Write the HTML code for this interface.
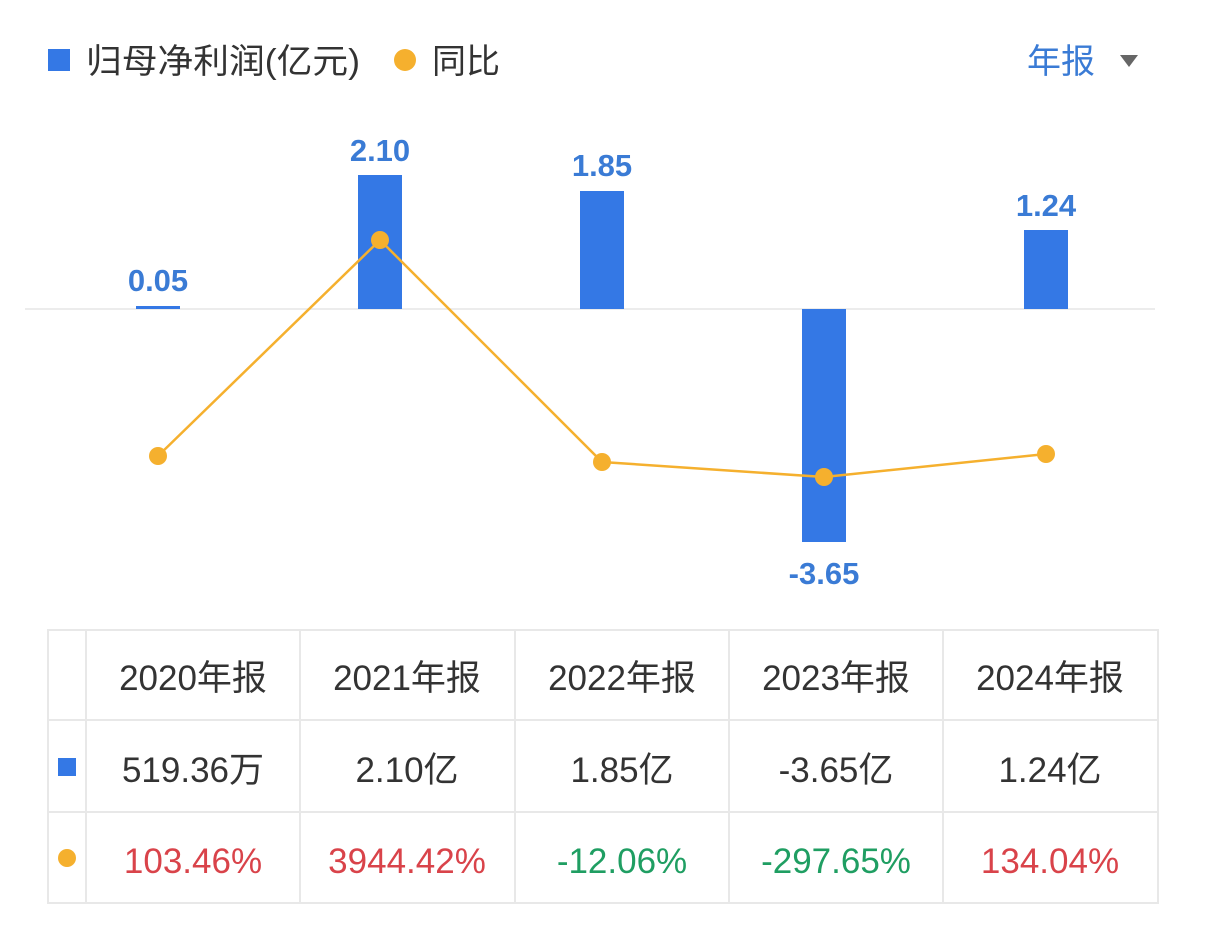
<!DOCTYPE html>
<html><head><meta charset="utf-8"><style>
body{margin:0;background:#fff;width:1206px;height:924px;overflow:hidden;font-family:"Liberation Sans","Noto Sans CJK SC",sans-serif}
svg text{font-family:"Liberation Sans","Noto Sans CJK SC",sans-serif}
</style></head><body>
<svg width="1206" height="924" xmlns="http://www.w3.org/2000/svg">
<rect x="48" y="49" width="22" height="22" fill="#3478e5"/>
<text x="86" y="73" font-size="34" fill="#333" textLength="274" lengthAdjust="spacingAndGlyphs">归母净利润(亿元)</text>
<circle cx="405" cy="60" r="11" fill="#f5b02e"/>
<text x="432" y="73" font-size="34" fill="#333">同比</text>
<text x="1027" y="73" font-size="34" fill="#3a7bd5">年报</text>
<polygon points="1120,55 1138,55 1129,67" fill="#666"/>
<line x1="25" y1="309" x2="1155" y2="309" stroke="#ececec" stroke-width="2"/>
<g fill="#3478e5">
<rect x="136" y="306" width="44" height="3"/>
<rect x="358" y="175" width="44" height="134"/>
<rect x="580" y="191" width="44" height="118"/>
<rect x="802" y="309" width="44" height="233"/>
<rect x="1024" y="230" width="44" height="79"/>
</g>
<g font-size="31" fill="#3a7bd5" text-anchor="middle" font-weight="bold">
<text x="158" y="291">0.05</text>
<text x="380" y="161">2.10</text>
<text x="602" y="176">1.85</text>
<text x="824" y="584">-3.65</text>
<text x="1046" y="216">1.24</text>
</g>
<polyline points="158,456 380,240 602,462 824,477 1046,454" fill="none" stroke="#f5b02e" stroke-width="2.5"/>
<g fill="#f5b02e">
<circle cx="158" cy="456" r="9"/><circle cx="380" cy="240" r="9"/><circle cx="602" cy="462" r="9"/><circle cx="824" cy="477" r="9"/><circle cx="1046" cy="454" r="9"/>
</g>
<g stroke="#e8e8e8" stroke-width="2" fill="none">
<rect x="48" y="630" width="1110" height="273"/>
<line x1="48" y1="720" x2="1158" y2="720"/>
<line x1="48" y1="812" x2="1158" y2="812"/>
<line x1="86" y1="630" x2="86" y2="903"/>
<line x1="300" y1="630" x2="300" y2="903"/>
<line x1="515" y1="630" x2="515" y2="903"/>
<line x1="729" y1="630" x2="729" y2="903"/>
<line x1="943" y1="630" x2="943" y2="903"/>
</g>
<rect x="58" y="758" width="18" height="18" fill="#3478e5"/>
<circle cx="67" cy="858" r="9" fill="#f5b02e"/>
<g font-size="35" fill="#333" text-anchor="middle">
<text x="193" y="690">2020年报</text>
<text x="407" y="690">2021年报</text>
<text x="622" y="690">2022年报</text>
<text x="836" y="690">2023年报</text>
<text x="1050" y="690">2024年报</text>
<text x="193" y="782">519.36万</text>
<text x="407" y="782">2.10亿</text>
<text x="622" y="782">1.85亿</text>
<text x="836" y="782">-3.65亿</text>
<text x="1050" y="782">1.24亿</text>
</g>
<g font-size="35" text-anchor="middle">
<text x="193" y="873" fill="#d9434a">103.46%</text>
<text x="407" y="873" fill="#d9434a">3944.42%</text>
<text x="622" y="873" fill="#1f9e62">-12.06%</text>
<text x="836" y="873" fill="#1f9e62">-297.65%</text>
<text x="1050" y="873" fill="#d9434a">134.04%</text>
</g>
</svg>
</body></html>
